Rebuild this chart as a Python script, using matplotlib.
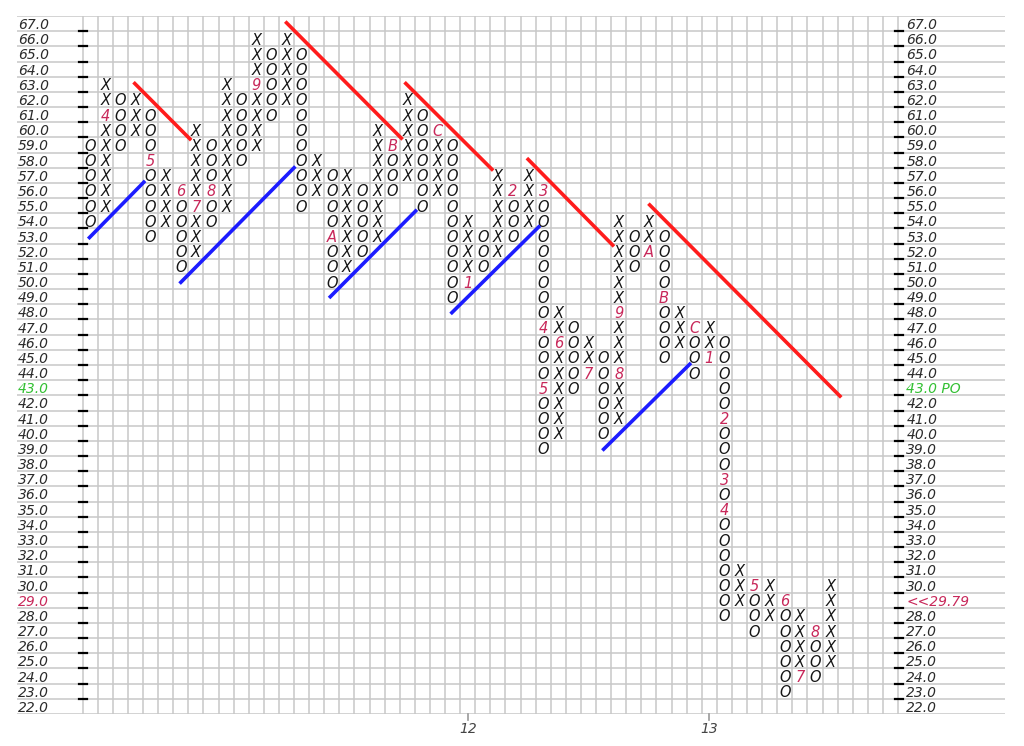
import numpy as np
import matplotlib.pyplot as plt

# point & figure columns (box size 1, 3-box reversal)
col_type = ['O', 'X', 'O', 'X', 'O', 'X', 'O', 'X', 'O', 'X',
            'O', 'X', 'O', 'X', 'O', 'X', 'O', 'X', 'O', 'X',
            'O', 'X', 'O', 'X', 'O', 'X', 'O', 'X', 'O', 'X',
            'O', 'X', 'O', 'X', 'O', 'X', 'O', 'X', 'O', 'X',
            'O', 'X', 'O', 'X', 'O', 'X', 'O', 'X', 'O', 'X']
col_low = [54, 55, 59, 60, 53, 54, 51, 52, 54, 55,
           58, 59, 61, 62, 55, 56, 50, 51, 52, 53,
           56, 57, 55, 56, 49, 50, 51, 52, 53, 54,
           39, 40, 43, 44, 40, 41, 51, 52, 45, 46,
           44, 45, 28, 29, 27, 28, 23, 24, 24, 25]
col_high = [59, 63, 62, 62, 61, 57, 56, 60, 59, 63,
            62, 66, 65, 66, 65, 58, 57, 57, 56, 60,
            59, 62, 61, 60, 59, 54, 53, 57, 56, 57,
            56, 48, 47, 46, 45, 54, 53, 54, 53, 48,
            47, 47, 46, 31, 30, 30, 29, 28, 27, 30]

# month markers that replace a box
month_col = [1, 4, 6, 7, 8, 11, 16, 20, 23, 25, 28, 30, 30, 30, 31,
             33, 35, 35, 37, 38, 40, 41, 42, 42, 42, 44, 46, 47, 48]
month_price = [61, 58, 56, 55, 56, 63, 53, 59, 60, 50, 56, 56, 47, 43, 46,
               44, 44, 48, 52, 49, 47, 45, 41, 37, 35, 30, 29, 24, 27]
month_text = ['4', '5', '6', '7', '8', '9', 'A', 'B', 'C', '1', '2', '3', '4', '5', '6',
              '7', '8', '9', 'A', 'B', 'C', '1', '2', '3', '4', '5', '6', '7', '8']

# trend lines in (column, price) units
res_x0 = [3.45, 13.5, 21.4, 29.5, 37.55]
res_y0 = [63.05, 67.05, 63.05, 58.05, 55.05]
res_x1 = [7.1, 21.1, 27.1, 35.1, 50.15]
res_y1 = [59.4, 59.45, 57.4, 52.4, 42.45]
sup_x0 = [0.45, 6.5, 16.4, 24.45, 34.5]
sup_y0 = [52.9, 49.95, 49.0, 47.95, 38.95]
sup_x1 = [4.05, 14.0, 22.05, 30.2, 40.2]
sup_y1 = [56.55, 57.5, 54.65, 53.6, 44.55]

year_col = [25, 41]
year_text = ['12', '13']

price_top = 67
price_bottom = 22
n_cols = 54
po_price = 43
last_row = 29
last_text = '<<29.79'

txt_col = '#2a2a2a'
mark_col = '#151515'
red_txt = '#c8285a'
green_txt = '#33c033'
grid_col = '#c8c8c8'

fig = plt.figure(figsize=(10.24, 7.46), dpi=100)
ax = fig.add_axes([17 / 1024, 32 / 746, 988 / 1024, 698 / 746])
xl, xr = -4.35, 61.08
ax.set_xlim(xl, xr)
ax.set_ylim(price_bottom - 0.5, price_top + 0.5)
ax.axis('off')

# grid
for b in np.arange(price_bottom - 0.5, price_top + 1):
    ax.plot([xl, xr], [b, b], color=grid_col, lw=1.1, zorder=1)
for k in range(n_cols + 1):
    ax.plot([k, k], [price_bottom - 0.5, price_top + 0.5], color=grid_col, lw=1.1, zorder=1)

# small ticks on both price scales
for b in np.arange(price_bottom + 0.5, price_top):
    ax.plot([-0.27, 0.3], [b, b], color='black', lw=1.6, zorder=2)
    ax.plot([n_cols - 0.21, n_cols + 0.35], [b, b], color='black', lw=1.6, zorder=2)

# price labels
for p in range(price_bottom, price_top + 1):
    lc = txt_col
    rt = f'{p:.1f}'
    rc = txt_col
    if p == po_price:
        lc = green_txt
        rt = f'{p:.1f} PO'
        rc = green_txt
    if p == last_row:
        lc = red_txt
        rt = last_text
        rc = red_txt
    ax.text(xl + 0.05, p, f'{p:.1f}', ha='left', va='center_baseline', fontsize=10,
            style='italic', color=lc)
    ax.text(n_cols + 0.55, p, rt, ha='left', va='center_baseline', fontsize=10,
            style='italic', color=rc)

# boxes
months = {(c, p): t for c, p, t in zip(month_col, month_price, month_text)}
for c, (t, lo, hi) in enumerate(zip(col_type, col_low, col_high)):
    for p in range(lo, hi + 1):
        if (c, p) in months:
            ax.text(c + 0.5, p, months[(c, p)], ha='center', va='center_baseline',
                    fontsize=10.5, style='italic', color=red_txt, zorder=3)
        else:
            ax.text(c + 0.5, p, t, ha='center', va='center_baseline',
                    fontsize=10.5, style='italic', color=mark_col, zorder=3)

# trend lines
for x0, y0, x1, y1 in zip(res_x0, res_y0, res_x1, res_y1):
    ax.plot([x0, x1], [y0, y1], color='#ff1c1c', lw=2.6, zorder=4)
for x0, y0, x1, y1 in zip(sup_x0, sup_y0, sup_x1, sup_y1):
    ax.plot([x0, x1], [y0, y1], color='#1c1cff', lw=2.6, zorder=4)

# year ticks
for c, t in zip(year_col, year_text):
    ax.plot([c + 0.5, c + 0.5], [price_bottom - 0.5, price_bottom - 0.9],
            color='#999999', lw=1.2, clip_on=False)
    ax.text(c + 0.5, price_bottom - 1.05, t, ha='center', va='top', fontsize=10,
            style='italic', color='#444444')

fig.savefig('out.png', dpi=100)
